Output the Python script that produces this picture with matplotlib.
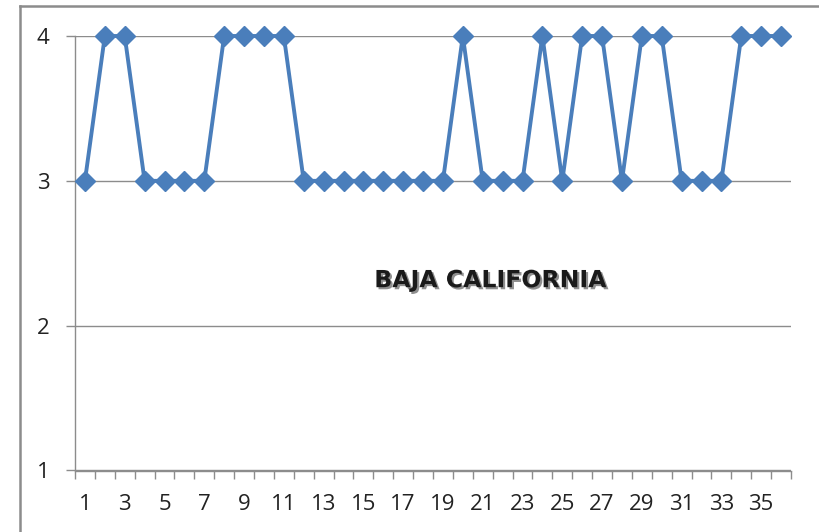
import numpy as np
import matplotlib.pyplot as plt
import matplotlib.patheffects as pe
from matplotlib.lines import Line2D

# values (one point per category 1..36)
categories = list(range(1, 37))
values = [3, 4, 4, 3, 3, 3, 3, 4, 4, 4, 4, 3, 3, 3, 3, 3, 3, 3, 3, 4,
          3, 3, 3, 4, 3, 4, 4, 3, 4, 4, 3, 3, 3, 4, 4, 4]
y_ticks = [1, 2, 3, 4]
x_labels = [str(c) for c in categories if c % 2 == 1]
chart_label = "BAJA CALIFORNIA"

W, H = 819, 532
BLUE = "#4A7EBB"
GRAY = "#8C8C8C"

fig = plt.figure(figsize=(W / 100, H / 100), dpi=100)
ax = fig.add_axes([75 / W, (H - 470.5) / H, (791 - 75) / W, (470.5 - 36) / H])

ax.plot(categories, values, color=BLUE, lw=2.8, marker="D", ms=10,
        clip_on=False, zorder=3)

ax.set_xlim(0.5, len(categories) + 0.5)
ax.set_ylim(1, 4)

# category boundaries carry the tick marks, odd categories carry the labels
ax.set_xticks(np.arange(0.5, len(categories) + 1, 1.0))
ax.set_xticklabels([])
ax.set_xticks([c for c in categories if c % 2 == 1], minor=True)
ax.set_xticklabels(x_labels, minor=True, family="Open Sans")
ax.tick_params(axis="x", which="major", direction="out", length=6, width=1, color=GRAY)
ax.tick_params(axis="x", which="minor", length=0, pad=17, labelsize=16, labelcolor="#222222")

ax.set_yticks(y_ticks)
ax.set_yticklabels([str(v) for v in y_ticks], family="Open Sans")
ax.tick_params(axis="y", direction="out", length=6.5, width=1, color=GRAY,
               pad=12, labelsize=16, labelcolor="#222222")
ax.yaxis.grid(True, color=GRAY, lw=1)
ax.set_axisbelow(True)

for side in ["top", "right"]:
    ax.spines[side].set_visible(False)
for side in ["left", "bottom"]:
    ax.spines[side].set_color(GRAY)
    ax.spines[side].set_linewidth(1)

ax.text(0.58, 0.438, chart_label, transform=ax.transAxes, ha="center", va="center",
        fontsize=17, fontweight="bold", color="#1a1a1a",
        path_effects=[pe.SimplePatchShadow(offset=(1.5, -1.5), shadow_rgbFace="#444444", alpha=0.6),
                      pe.Normal()])

# outer chart border (only left and top edges are visible in the crop)
fig.add_artist(Line2D([19.5 / W, 19.5 / W], [0, 1 - 6 / H], color=GRAY, lw=1.8))
fig.add_artist(Line2D([19.5 / W, 1], [1 - 6 / H, 1 - 6 / H], color=GRAY, lw=1.8))

fig.savefig("out.png", dpi=100, facecolor="white")
